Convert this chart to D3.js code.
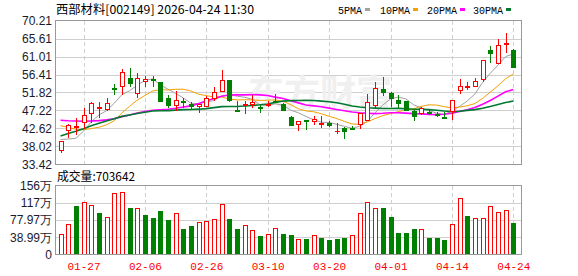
<!DOCTYPE html>
<html>
<head>
<meta charset="utf-8">
<script src="https://cdn.jsdelivr.net/npm/d3@7"></script>
<style>
body{margin:0;background:#fff;}
svg{display:block;}
</style>
</head>
<body>
<svg id="chart" width="578" height="276"></svg>
<script>
// trading days shown
let dates = ['2026-01-22','2026-01-23','2026-01-26','2026-01-27','2026-01-28','2026-01-29','2026-01-30',
  '2026-02-02','2026-02-03','2026-02-04','2026-02-05','2026-02-06','2026-02-09','2026-02-10','2026-02-11',
  '2026-02-12','2026-02-13','2026-02-24','2026-02-25','2026-02-26','2026-02-27','2026-03-02','2026-03-03',
  '2026-03-04','2026-03-05','2026-03-06','2026-03-09','2026-03-10','2026-03-11','2026-03-12','2026-03-13',
  '2026-03-16','2026-03-17','2026-03-18','2026-03-19','2026-03-20','2026-03-23','2026-03-24','2026-03-25',
  '2026-03-26','2026-03-27','2026-03-30','2026-03-31','2026-04-01','2026-04-02','2026-04-03','2026-04-07',
  '2026-04-08','2026-04-09','2026-04-10','2026-04-13','2026-04-14','2026-04-15','2026-04-16','2026-04-17',
  '2026-04-20','2026-04-21','2026-04-22','2026-04-23','2026-04-24'];
let open  = [36.92,42.03,43.05,44.07,46.27,47.80,47.30,53.00,53.27,55.40,51.38,54.37,55.20,54.37,50.50,
  48.30,49.69,48.83,48.16,48.16,50.28,52.00,55.05,47.40,48.30,48.67,48.10,48.30,49.70,49.00,45.68,43.56,
  44.74,44.33,43.72,43.97,41.90,42.87,42.70,43.56,44.58,48.41,52.66,51.56,49.85,49.69,47.14,46.27,46.96,
  46.27,45.60,46.88,52.25,53.20,53.27,55.06,62.72,59.05,64.15,62.72];
let high  = [39.50,43.70,45.40,47.98,49.50,49.50,50.50,54.10,57.77,57.95,56.90,56.10,56.10,54.60,51.20,
  52.10,50.50,49.50,49.00,50.97,53.27,57.50,55.10,49.60,49.70,51.20,48.67,49.70,51.40,49.20,45.80,44.60,
  44.80,45.86,45.86,44.60,43.90,43.05,43.20,46.60,51.38,54.37,55.90,52.07,51.20,49.75,47.70,48.16,47.30,
  46.90,46.80,50.00,55.20,54.60,55.47,60.20,63.75,65.60,67.14,63.05];
let low   = [36.48,40.30,41.00,42.44,43.90,45.25,47.20,51.20,51.20,53.27,50.50,53.10,53.10,49.30,47.98,
  47.10,47.80,47.30,46.45,48.00,49.70,51.90,49.50,47.10,46.30,47.98,46.70,48.10,49.10,47.00,43.20,42.03,
  42.20,43.56,42.87,42.90,41.16,39.88,42.40,42.44,44.50,47.98,50.97,48.16,47.98,47.00,44.58,46.00,46.10,
  45.43,45.30,44.74,51.38,52.40,53.20,54.60,59.30,59.00,61.86,57.95];
let close = [39.47,43.50,43.35,46.12,49.08,48.20,49.18,52.76,57.18,53.96,55.40,55.14,54.95,49.44,48.40,
  50.00,49.33,48.16,48.83,50.50,52.00,55.05,49.70,47.20,49.00,49.50,47.90,49.00,49.20,47.14,43.30,44.58,
  44.23,45.00,43.90,43.13,42.10,41.77,42.50,46.53,49.50,53.09,51.56,50.10,49.00,47.14,45.60,47.73,46.45,
  45.86,45.40,49.95,53.60,53.45,54.80,60.17,61.60,64.00,64.40,58.20];
let volume = [468000,690000,1092000,1196000,1114000,936000,840000,1397000,1419000,1047000,1040000,891000,
  824000,980000,780000,929000,579000,646000,728000,750000,795000,1151000,802000,579000,661000,550000,
  423000,468000,594000,468000,446000,349000,349000,438000,371000,334000,356000,379000,438000,928000,
  1196000,1062000,1062000,847000,490000,490000,579000,572000,371000,371000,334000,691000,1285000,869000,
  817000,817000,1107000,951000,995000,703642];
// closes of the 29 sessions before the window, needed for the averages
let priorClose = [25.5,26.0,25.8,26.6,29.3,32.2,35.4,38.9,42.8,44.5,46.0,44.8,47.5,47.5,46.5,45.2,47.0,
  46.5,46.0,44.5,47.5,48.5,47.2,46.0,45.0,42.8,42.5,37.0,37.2];
let priceTicks = [70.21,65.61,61.01,56.41,51.82,47.22,42.62,38.02,33.42];
let volTicks = [0,389850,779700,1169550,1559400];
let volTickLabels = ['0','38.99万','77.97万','117万','156万'];
let dateTicks = ['01-27','02-06','02-26','03-10','03-20','04-01','04-14','04-24'];
let maPeriods = [5,10,20,30];
let maNames = ['5PMA','10PMA','20PMA','30PMA'];
let maColors = ['#a0a0a0','#f2a100','#ff00ff','#007a30'];

let UP = '#ff0000', DOWN = '#008000', GRID = '#cfcfcf', FRAME = '#999';
let svg = d3.select('#chart');
let px = v => Math.round(v) + .5;

let x = d3.scalePoint().domain(dates).range([60.5, 513.3]);
let y = d3.scaleLinear().domain([33.42, 70.21]).range([164.5, 20.5]);
let yv = d3.scaleLinear().domain([0, 1559400]).range([254.5, 185.5]);
let tickDates = dates.filter(d => dateTicks.indexOf(d.slice(5)) > -1);

// title + legend
svg.append('text').attr('x', 56).attr('y', 14)
  .style('font', '12px "Noto Sans CJK SC"').attr('fill', '#000')
  .attr('textLength', 198).attr('lengthAdjust', 'spacingAndGlyphs')
  .text('西部材料[002149] 2026-04-24 11:30');
let legX = [338, 380, 427, 473];
maNames.forEach((n, k) => {
  let t = svg.append('text').attr('x', legX[k]).attr('y', 14)
    .style('font', '10px "Liberation Mono"').attr('fill', '#000').text(n);
  let w = t.node().getComputedTextLength();
  svg.append('rect').attr('x', legX[k] + w + 3).attr('y', 8).attr('width', 5).attr('height', 3)
    .attr('fill', maColors[k]);
});

// grids
let gMain = svg.append('g');
gMain.selectAll('line.h').data(priceTicks.slice(1, -1)).join('line')
  .attr('x1', 56).attr('x2', 521).attr('y1', d => px(y(d))).attr('y2', d => px(y(d)))
  .attr('stroke', GRID);
gMain.selectAll('line.v').data(tickDates).join('line')
  .attr('x1', d => px(x(d))).attr('x2', d => px(x(d))).attr('y1', 21).attr('y2', 164)
  .attr('stroke', GRID).attr('stroke-dasharray', '4,3');
let gVol = svg.append('g');
gVol.selectAll('line.h').data(volTicks.slice(1, -1)).join('line')
  .attr('x1', 56).attr('x2', 521).attr('y1', d => px(yv(d))).attr('y2', d => px(yv(d)))
  .attr('stroke', GRID);
gVol.selectAll('line.v').data(tickDates).join('line')
  .attr('x1', d => px(x(d))).attr('x2', d => px(x(d))).attr('y1', 186).attr('y2', 254)
  .attr('stroke', GRID).attr('stroke-dasharray', '4,3');

// watermark
svg.append('text').attr('x', 320).attr('y', 106).attr('text-anchor', 'middle')
  .style('font', 'bold 36px "Noto Sans CJK SC"').attr('fill', '#f0f0f0').text('东方财富');

// moving averages
let allClose = priorClose.concat(close);
let off = priorClose.length;
maPeriods.forEach((p, k) => {
  let ma = close.map((c, i) => d3.mean(allClose.slice(i + off - p + 1, i + off + 1)));
  let line = d3.line().x((d, i) => x(dates[i])).y(d => y(d));
  svg.append('path').datum(ma).attr('d', line).attr('fill', 'none')
    .attr('stroke', maColors[k]).attr('stroke-width', k > 1 ? 1.6 : 1);
});

// candles
let gc = svg.append('g');
dates.forEach((d, i) => {
  let cx = Math.round(x(d));
  let up = close[i] >= open[i];
  let col = up ? UP : DOWN;
  let top = Math.round(y(Math.max(open[i], close[i])));
  let bot = Math.round(y(Math.min(open[i], close[i])));
  let yh = Math.round(y(high[i])), yl = Math.round(y(low[i]));
  gc.append('line').attr('x1', cx + .5).attr('x2', cx + .5).attr('y1', yh).attr('y2', top).attr('stroke', col);
  gc.append('line').attr('x1', cx + .5).attr('x2', cx + .5).attr('y1', bot).attr('y2', yl).attr('stroke', col);
  if (bot - top < 2) {
    gc.append('rect').attr('x', cx - 2).attr('y', top).attr('width', 5).attr('height', Math.max(1, bot - top + 1))
      .attr('fill', col);
  } else if (up) {
    gc.append('rect').attr('x', cx - 1.5).attr('y', top + .5).attr('width', 4).attr('height', bot - top - 1)
      .attr('fill', '#fff').attr('stroke', col);
  } else {
    gc.append('rect').attr('x', cx - 2).attr('y', top).attr('width', 5).attr('height', bot - top).attr('fill', col);
  }
});

// volume bars, coloured by close vs previous close
let gb = svg.append('g');
volume.forEach((v, i) => {
  let cx = Math.round(x(dates[i]));
  let prev = i ? close[i - 1] : priorClose[priorClose.length - 1];
  let up = close[i] >= prev;
  let t = Math.round(yv(v));
  if (up) {
    gb.append('rect').attr('x', cx - 1.5).attr('y', t + .5).attr('width', 4).attr('height', 254 - t)
      .attr('fill', '#fff').attr('stroke', UP);
  } else {
    gb.append('rect').attr('x', cx - 2).attr('y', t).attr('width', 5).attr('height', 255 - t).attr('fill', DOWN);
  }
});

// frames
svg.append('rect').attr('x', 55.5).attr('y', 20.5).attr('width', 466).attr('height', 144)
  .attr('fill', 'none').attr('stroke', FRAME);
svg.append('rect').attr('x', 55.5).attr('y', 185.5).attr('width', 466).attr('height', 69)
  .attr('fill', 'none').attr('stroke', FRAME);

// axes
let ay = svg.append('g').attr('transform', 'translate(55,0)')
  .call(d3.axisLeft(y).tickValues(priceTicks).tickFormat(d3.format('.2f')).tickSize(0).tickPadding(3));
let av = svg.append('g').attr('transform', 'translate(55,0)')
  .call(d3.axisLeft(yv).tickValues(volTicks).tickFormat((d, i) => volTickLabels[i]).tickSize(0).tickPadding(3));
[ay, av].forEach(a => {
  a.select('.domain').remove();
  a.selectAll('text').style('font', '12px "Liberation Sans"').attr('fill', '#1a1a2e');
});
let ax = svg.append('g').attr('transform', 'translate(0,255)')
  .call(d3.axisBottom(x).tickValues(tickDates).tickFormat(d => d.slice(5)).tickSize(0).tickPadding(7));
ax.select('.domain').remove();
ax.selectAll('text').style('font', '11px "Liberation Mono"').attr('fill', '#ff0000');

// volume caption
svg.append('text').attr('x', 57).attr('y', 181)
  .style('font', '12px "Noto Sans CJK SC"').attr('fill', '#000')
  .attr('textLength', 78).attr('lengthAdjust', 'spacingAndGlyphs')
  .text('成交量:' + volume[volume.length - 1]);
</script>
</body>
</html>
